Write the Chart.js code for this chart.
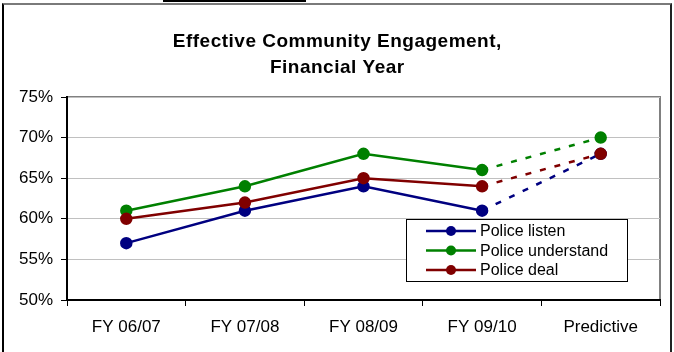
<!DOCTYPE html>
<html>
<head>
<meta charset="utf-8">
<script src="https://cdn.jsdelivr.net/npm/chart.js@4/dist/chart.umd.min.js"></script>
<style>
  html, body { margin: 0; padding: 0; background: #fff; overflow: hidden; }
  #wrap { position: relative; width: 674px; height: 352px; }
  #frame { position: absolute; left: 2px; top: 3px; width: 666px; height: 400px;
           border-left: 2px solid #000; border-top: 2px solid #7a7a7a; border-right: 2px solid #222; }
  #tab { position: absolute; left: 163px; top: 0; width: 143px; height: 2px; background: #000; }
  canvas { position: absolute; left: 0; top: 0; }
</style>
</head>
<body>
<div id="wrap">
  <div id="tab"></div>
  <div id="frame"></div>
  <canvas id="c" width="674" height="352"></canvas>
</div>
<script>
// Survey results by financial year, plus the predicted value
const categories = ['FY 06/07', 'FY 07/08', 'FY 08/09', 'FY 09/10', 'Predictive'];
const policeListen = [57, 61, 64, 61, 68];
const policeUnderstand = [61, 64, 68, 66, 70];
const policeDeal = [60, 62, 65, 64, 68];
const seriesNames = ['Police listen', 'Police understand', 'Police deal'];
const seriesColors = ['#000080', '#008000', '#800000'];
const titleLines = ['Effective Community Engagement,', 'Financial Year'];
const yMin = 50, yMax = 75, yStep = 5;

const predictiveIndex = categories.indexOf('Predictive');
const FONT = '"Liberation Sans", Arial, Helvetica, sans-serif';

function makeSet(label, data, color, order) {
  return {
    label, data, order,
    borderColor: color,
    backgroundColor: color,
    pointBackgroundColor: color,
    pointBorderColor: color,
    pointRadius: 5,
    pointHoverRadius: 5,
    borderWidth: 2.5,
    tension: 0,
    segment: {
      borderDash: ctx => ctx.p1DataIndex === predictiveIndex ? [6, 9] : undefined
    }
  };
}

// Chart title, frame of the plot area and the boxed legend
const decor = {
  id: 'decor',
  beforeDraw(chart) {
    const { ctx, chartArea: a } = chart;
    ctx.save();
    ctx.strokeStyle = '#808080';
    ctx.lineWidth = 2;
    ctx.strokeRect(a.left, a.top, a.right - a.left, a.bottom - a.top);
    ctx.restore();
  },
  afterDraw(chart) {
    const { ctx, chartArea: a } = chart;
    ctx.save();
    // title
    ctx.fillStyle = '#000';
    ctx.font = 'bold 19px ' + FONT;
    ctx.textAlign = 'center';
    ctx.textBaseline = 'alphabetic';
    if ('letterSpacing' in ctx) ctx.letterSpacing = '0.5px';
    const cx = chart.width / 2;
    ctx.fillText(titleLines[0], cx + 0.3, 47);
    ctx.fillText(titleLines[1], cx + 0.3, 73);

    // legend
    const lx = a.right - 254, ly = a.top + 122, lw = 221, lh = 62;
    ctx.fillStyle = '#fff';
    ctx.fillRect(lx, ly, lw, lh);
    ctx.strokeStyle = '#000';
    ctx.lineWidth = 1;
    ctx.strokeRect(lx + 0.5, ly + 0.5, lw, lh);
    ctx.font = '16px ' + FONT;
    ctx.textAlign = 'left';
    ctx.textBaseline = 'middle';
    if ('letterSpacing' in ctx) ctx.letterSpacing = '0px';
    chart.data.datasets.forEach((ds, i) => {
      const y = ly + 12 + i * 19.5;
      ctx.strokeStyle = ds.borderColor;
      ctx.lineWidth = 2.5;
      ctx.beginPath();
      ctx.moveTo(lx + 20, y);
      ctx.lineTo(lx + 70, y);
      ctx.stroke();
      ctx.fillStyle = ds.borderColor;
      ctx.beginPath();
      ctx.arc(lx + 45, y, 5, 0, Math.PI * 2);
      ctx.fill();
      ctx.fillStyle = '#000';
      ctx.fillText(ds.label, lx + 74, y + 1);
    });
    ctx.restore();
  }
};

new Chart(document.getElementById('c'), {
  type: 'line',
  data: {
    labels: categories,
    datasets: [
      makeSet(seriesNames[0], policeListen, seriesColors[0], 3),
      makeSet(seriesNames[1], policeUnderstand, seriesColors[1], 2),
      makeSet(seriesNames[2], policeDeal, seriesColors[2], 1)
    ]
  },
  options: {
    responsive: false,
    animation: false,
    events: [],
    layout: { padding: { left: 0, right: 14, top: 97, bottom: 0 } },
    plugins: {
      legend: { display: false },
      title: { display: false },
      tooltip: { enabled: false }
    },
    scales: {
      x: {
        offset: true,
        grid: {
          offset: true,
          drawOnChartArea: false,
          drawTicks: true,
          tickLength: 6,
          tickColor: '#000',
          tickWidth: 1
        },
        border: { color: '#000', width: 2 },
        ticks: {
          color: '#000',
          font: { family: FONT, size: 17 },
          padding: 11,
          maxRotation: 0,
          autoSkip: false
        },
        afterFit(scale) { scale.height = 52; }
      },
      y: {
        min: yMin,
        max: yMax,
        grid: {
          color: '#c0c0c0',
          lineWidth: 1,
          drawTicks: true,
          tickLength: 6,
          tickColor: '#000',
          tickWidth: 1
        },
        border: { color: '#000', width: 2 },
        ticks: {
          stepSize: yStep,
          color: '#000',
          font: { family: FONT, size: 17 },
          padding: 8,
          callback: v => v + '%'
        },
        afterFit(scale) { scale.width = 67; }
      }
    }
  },
  plugins: [decor]
});
</script>
</body>
</html>
